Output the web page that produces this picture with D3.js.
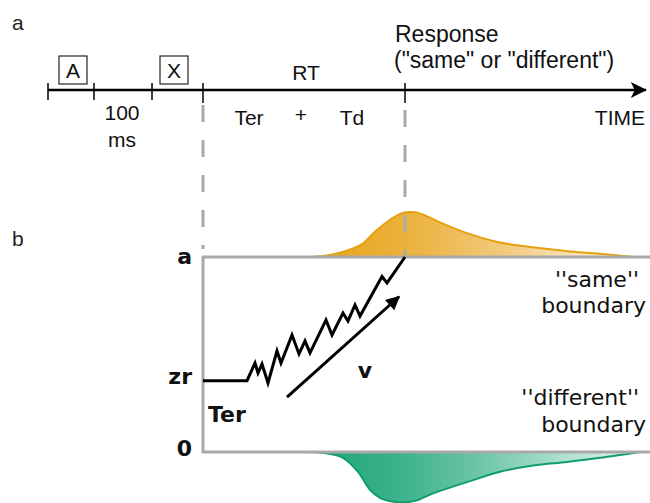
<!DOCTYPE html>
<html>
<head>
<meta charset="utf-8">
<script src="https://cdn.jsdelivr.net/npm/d3@7"></script>
<style>
  body { margin: 0; background: #fff; }
  svg { display: block; }
</style>
</head>
<body>
<div id="chart"></div>
<script>
// time is in arbitrary units along the trial (roughly 1 unit per px)
const tickTimes = [0, 46, 104, 155, 357];
const stimNames = ["A", "X"];
const stimTimes = [25, 126];
const timeEnd = 600;
const rtStart = 155;     // stimulus X offset -> start of RT
const respTime = 357;    // response time

// decision variable (0 = "different", 1 = "same")
const zr = 0.366;
const walkT = [155, 199, 207, 210, 214, 220, 229, 233, 244, 251, 257, 262, 278, 284, 295, 300, 307, 312, 334, 339, 357];
const walkE = [zr, zr, 0.456, 0.405, 0.451, 0.354, 0.518, 0.456, 0.6, 0.503, 0.569, 0.508, 0.677, 0.6, 0.713, 0.672, 0.754, 0.697, 0.9, 0.867, 1.0];
const driftT = [239, 354];
const driftE = [0.282, 0.81];

// RT densities at each boundary
const sameT = [265, 289, 315, 324, 335, 345, 355, 362, 372, 392, 419, 452, 469, 502, 519, 552, 585];
const sameD = [0, 0.08, 0.3, 0.5, 0.71, 0.87, 0.98, 1.0, 0.97, 0.77, 0.53, 0.32, 0.26, 0.17, 0.13, 0.07, 0];
const diffT = [249, 275, 295, 310, 322, 332, 344, 355, 368, 385, 419, 452, 485, 519, 552, 592];
const diffD = [0, 0.02, 0.13, 0.44, 0.84, 1.02, 1.1, 1.12, 1.08, 0.92, 0.67, 0.44, 0.3, 0.22, 0.13, 0];

const W = 650, H = 503;

const svg = d3.select("#chart").append("svg")
  .attr("width", W)
  .attr("height", H);

const x = d3.scaleLinear().domain([0, timeEnd]).range([48, 648]);
const ev = d3.scaleLinear().domain([0, 1]).range([452, 257]);
const dens = d3.scaleLinear().domain([0, 1]).range([0, 45]);

const defs = svg.append("defs");

// arrow markers
defs.append("marker")
  .attr("id", "timeTip")
  .attr("viewBox", "0 0 10 10")
  .attr("refX", 9.5).attr("refY", 5)
  .attr("markerUnits", "userSpaceOnUse")
  .attr("markerWidth", 26).attr("markerHeight", 16)
  .attr("orient", "auto")
  .append("path")
  .attr("d", "M0,0 L10,5 L0,10 L2.5,5 Z")
  .attr("fill", "#000");

defs.append("marker")
  .attr("id", "vTip")
  .attr("viewBox", "0 0 10 10")
  .attr("refX", 9).attr("refY", 5)
  .attr("markerUnits", "userSpaceOnUse")
  .attr("markerWidth", 17).attr("markerHeight", 14)
  .attr("orient", "auto")
  .append("path")
  .attr("d", "M0,0 L10,5 L0,10 Z")
  .attr("fill", "#000");

// gradients
const gSame = defs.append("linearGradient").attr("id", "gSame");
[[0, "#e8a41c"], [0.3, "#ebb23d"], [0.58, "#f1c979"], [0.75, "#f6dba6"], [1, "#fdf4e6"]]
  .forEach(s => gSame.append("stop").attr("offset", s[0]).attr("stop-color", s[1]));
const gDiff = defs.append("linearGradient").attr("id", "gDiff");
[[0, "#17a276"], [0.3, "#3cb28c"], [0.5, "#66c2a3"], [0.74, "#a5dcc8"], [1, "#e4f5ef"]]
  .forEach(s => gDiff.append("stop").attr("offset", s[0]).attr("stop-color", s[1]));

// ---------- panel a : timeline ----------
const topFont = "Liberation Sans, Arial, sans-serif";

svg.append("text").attr("x", 12).attr("y", 30)
  .attr("font-family", topFont).attr("font-size", 21)
  .attr("fill", "#222").text("a");

svg.append("line")
  .attr("x1", x(0)).attr("x2", x(timeEnd) - 2)
  .attr("y1", 90).attr("y2", 90)
  .attr("stroke", "#000").attr("stroke-width", 2.6)
  .attr("marker-end", "url(#timeTip)");

svg.selectAll(".tick")
  .data(tickTimes)
  .enter().append("line")
  .attr("class", "tick")
  .attr("x1", d => x(d)).attr("x2", d => x(d))
  .attr("y1", 83).attr("y2", d => d >= rtStart ? 103 : 100)
  .attr("stroke", "#000").attr("stroke-width", 1.5);

svg.selectAll(".stimBox")
  .data(stimTimes)
  .enter().append("rect")
  .attr("class", "stimBox")
  .attr("x", d => x(d) - 14).attr("y", 56)
  .attr("width", 28).attr("height", 28)
  .attr("fill", "none").attr("stroke", "#222").attr("stroke-width", 1.2);

svg.selectAll(".stimLab")
  .data(stimTimes)
  .enter().append("text")
  .attr("class", "stimLab")
  .attr("x", d => x(d)).attr("y", 78)
  .attr("text-anchor", "middle")
  .attr("font-family", topFont).attr("font-size", 21)
  .attr("fill", "#111")
  .text((d, i) => stimNames[i]);

function topText(t, y, s, anchor, size) {
  svg.append("text")
    .attr("x", x(t)).attr("y", y)
    .attr("text-anchor", anchor || "middle")
    .attr("font-family", topFont).attr("font-size", size || 21)
    .attr("fill", "#111")
    .text(s);
}
topText(74, 120, "100");
topText(74, 147, "ms");
topText(258, 80, "RT");
topText(201, 125, "Ter");
topText(253, 122, "+");
topText(304, 125, "Td");
topText(597, 125, "TIME", "end");
topText(347, 42, "Response", "start", 23);
topText(346, 68, "(\"same\" or \"different\")", "start", 23);

// ---------- panel b : diffusion ----------
svg.append("text").attr("x", 12).attr("y", 246)
  .attr("font-family", topFont).attr("font-size", 21)
  .attr("fill", "#222").text("b");

const sameData = sameT.map((t, i) => ({t: t, d: sameD[i]}));
const diffData = diffT.map((t, i) => ({t: t, d: diffD[i]}));

const areaSame = d3.area().curve(d3.curveCatmullRom)
  .x(d => x(d.t)).y0(ev(1)).y1(d => ev(1) - dens(d.d));
const lineSame = d3.line().curve(d3.curveCatmullRom)
  .x(d => x(d.t)).y(d => ev(1) - dens(d.d));
const areaDiff = d3.area().curve(d3.curveCatmullRom)
  .x(d => x(d.t)).y0(ev(0)).y1(d => ev(0) + dens(d.d));
const lineDiff = d3.line().curve(d3.curveCatmullRom)
  .x(d => x(d.t)).y(d => ev(0) + dens(d.d));

svg.append("path").datum(sameData).attr("d", areaSame).attr("fill", "url(#gSame)");
svg.append("path").datum(sameData).attr("d", lineSame)
  .attr("fill", "none").attr("stroke", "#e6a00e").attr("stroke-width", 2);
svg.append("path").datum(diffData).attr("d", areaDiff).attr("fill", "url(#gDiff)");
svg.append("path").datum(diffData).attr("d", lineDiff)
  .attr("fill", "none").attr("stroke", "#0f9d6c").attr("stroke-width", 2);

// boundaries
const grey = "#a9a9a9";
svg.append("path")
  .attr("d", `M${W},${ev(1)} L${x(rtStart)},${ev(1)} L${x(rtStart)},${ev(0)} L${W},${ev(0)}`)
  .attr("fill", "none").attr("stroke", grey).attr("stroke-width", 3);

// dashed guides from timeline to boundary
svg.append("line")
  .attr("x1", x(rtStart)).attr("x2", x(rtStart))
  .attr("y1", 105).attr("y2", 249)
  .attr("stroke", grey).attr("stroke-width", 3).attr("stroke-dasharray", "17,18");
svg.append("line")
  .attr("x1", x(respTime)).attr("x2", x(respTime))
  .attr("y1", 110).attr("y2", ev(1))
  .attr("stroke", grey).attr("stroke-width", 3).attr("stroke-dasharray", "17,18");

// random walk
svg.append("path")
  .datum(walkT.map((t, i) => [t, walkE[i]]))
  .attr("d", d3.line().x(d => x(d[0])).y(d => ev(d[1])))
  .attr("fill", "none").attr("stroke", "#000").attr("stroke-width", 3)
  .attr("stroke-linejoin", "miter");

// drift arrow
svg.append("line")
  .attr("x1", x(driftT[0])).attr("y1", ev(driftE[0]))
  .attr("x2", x(driftT[1]) - 3).attr("y2", ev(driftE[1]) + 2.7)
  .attr("stroke", "#000").attr("stroke-width", 3)
  .attr("marker-end", "url(#vTip)");

const bFont = "DejaVu Sans, Verdana, sans-serif";
function bold(px, py, s, anchor) {
  svg.append("text").attr("x", px).attr("y", py)
    .attr("text-anchor", anchor)
    .attr("font-family", bFont).attr("font-weight", "bold").attr("font-size", 22)
    .attr("fill", "#111").text(s);
}
bold(x(rtStart) - 11, ev(1) + 7, "a", "end");
bold(x(rtStart) - 11, ev(zr) + 3, "zr", "end");
bold(x(rtStart) - 11, ev(0) + 4, "0", "end");
bold(x(rtStart) + 5, 422, "Ter", "start");
bold(x(317), 378, "v", "middle");

function plain(px, py, s) {
  svg.append("text").attr("x", px).attr("y", py)
    .attr("text-anchor", "end")
    .attr("font-family", bFont).attr("font-size", 22)
    .attr("fill", "#111").text(s);
}
plain(639, 287, "''same''");
plain(646, 313, "boundary");
plain(639, 405, "''different''");
plain(646, 432, "boundary");
</script>
</body>
</html>
